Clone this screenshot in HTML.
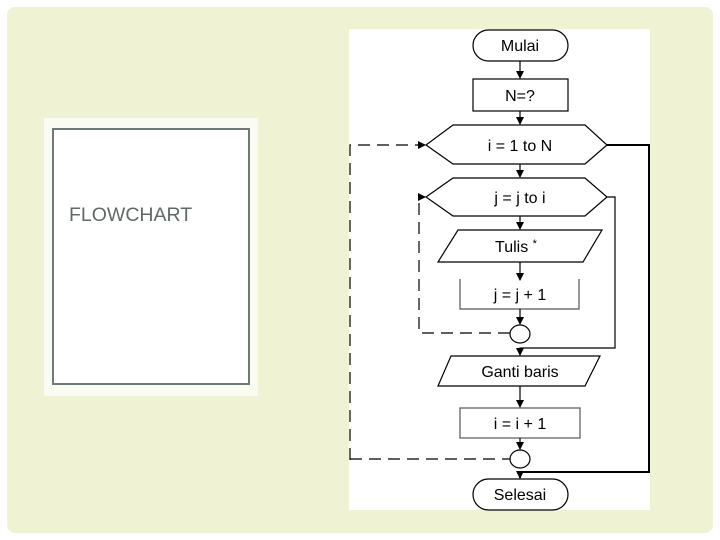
<!DOCTYPE html>
<html><head><meta charset="utf-8"><style>
html,body{margin:0;padding:0;background:#fff;width:720px;height:540px;overflow:hidden}
</style></head><body>
<svg width="720" height="540" viewBox="0 0 720 540" xmlns="http://www.w3.org/2000/svg" font-family="Liberation Sans, Arial, sans-serif">
<defs><marker id="a" markerWidth="8" markerHeight="8" refX="7" refY="4" orient="auto" markerUnits="userSpaceOnUse"><path d="M0,0 L8,4 L0,8 z" fill="#000"/></marker></defs>
<rect x="7" y="7" width="706" height="526" rx="8" fill="#f0f2d4"/>
<rect x="44" y="118" width="214" height="278" fill="#fafcf4"/>
<rect x="53" y="129" width="196" height="255" fill="#fff" stroke="#6e7b74" stroke-width="2"/>
<text x="69" y="221" font-size="19.5" fill="#5f6a64">FLOWCHART</text>
<rect x="349" y="29" width="301" height="481" fill="#fff"/>
<g stroke="#000" stroke-width="1.2" fill="none">
<rect x="473" y="30" width="95" height="31" rx="15.5"/>
<rect x="473" y="79" width="95" height="32"/>
<polygon points="426,145 453,125 585,125 607,145 585,164 453,164"/>
<polygon points="426,197 453,178 585,178 607,197 585,216 453,216"/>
<polygon points="458,230 602,230 583,262 438,262"/>
<polyline points="460,279 460,309 579,309 579,279" stroke="#555"/>
<ellipse cx="520" cy="334" rx="10" ry="9"/>
<polygon points="451,356 600,356 585,386 438,386"/>
<rect x="460" y="408" width="120" height="30" stroke="#555"/>
<ellipse cx="520" cy="459" rx="10" ry="9"/>
<rect x="473" y="479" width="95" height="31" rx="15.5"/>
<line x1="520" y1="61" x2="520" y2="78" marker-end="url(#a)"/>
<line x1="520" y1="111" x2="520" y2="124" marker-end="url(#a)"/>
<line x1="520" y1="164" x2="520" y2="177" marker-end="url(#a)"/>
<line x1="520" y1="216" x2="520" y2="229" marker-end="url(#a)"/>
<line x1="520" y1="262" x2="520" y2="280" marker-end="url(#a)"/>
<line x1="520" y1="309" x2="520" y2="324" marker-end="url(#a)"/>
<line x1="520" y1="386" x2="520" y2="407" marker-end="url(#a)"/>
<line x1="520" y1="438" x2="520" y2="449" marker-end="url(#a)"/>
<polyline points="607,197 615,197 615,348 520,348 520,355" marker-end="url(#a)"/>
<polyline points="607,145 649,145 649,472 520,472 520,478" marker-end="url(#a)" stroke-width="2"/>
<g stroke-dasharray="12,7">
<polyline points="350,460 350,145 425,145" marker-end="url(#a)"/>
<line x1="350" y1="459" x2="510" y2="459"/>
<polyline points="510,333 419,333 419,197 425,197" marker-end="url(#a)"/>
</g>
</g>
<g font-size="16" text-anchor="middle" fill="#000">
<text x="520" y="51">Mulai</text>
<text x="520" y="101">N=?</text>
<text x="520" y="151">i = 1 to N</text>
<text x="520" y="203">j = j to i</text>
<text x="516" y="252">Tulis  <tspan font-size="11" dy="-5">*</tspan></text>
<text x="520" y="300">j = j + 1</text>
<text x="520" y="377">Ganti baris</text>
<text x="520" y="429">i = i + 1</text>
<text x="520" y="500">Selesai</text>
</g>
</svg>
</body></html>
